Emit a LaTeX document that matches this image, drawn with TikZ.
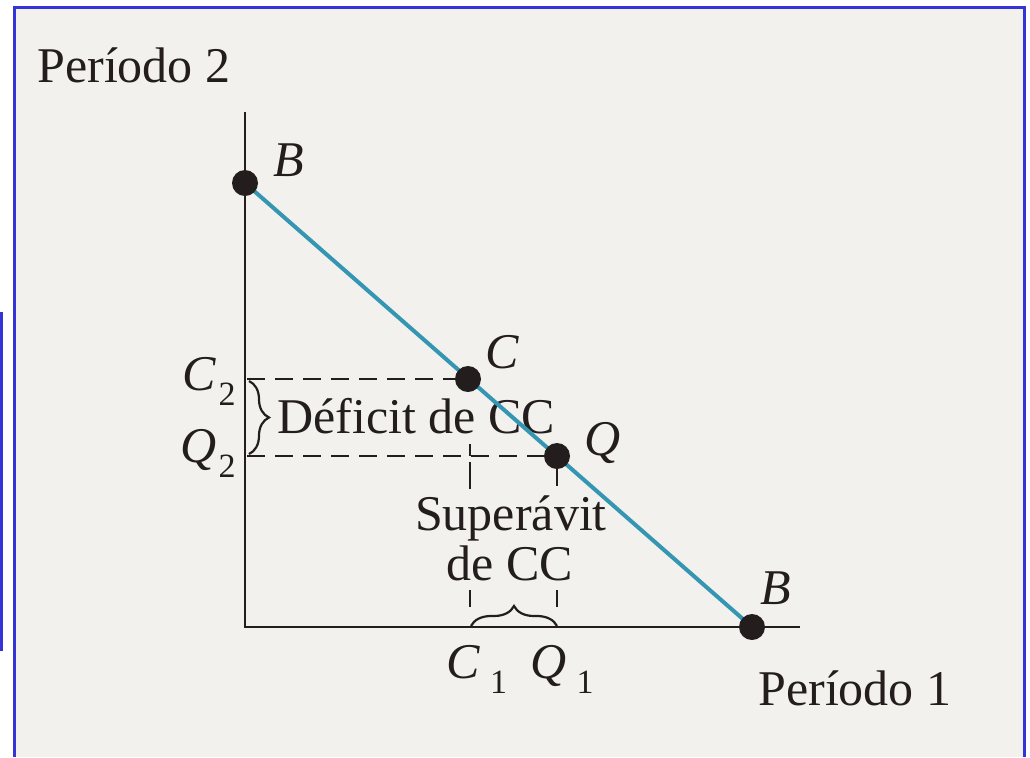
\documentclass[tikz,border=0pt]{standalone}
\usepackage{fontspec}
\setmainfont{Liberation Serif}
\usetikzlibrary{decorations.pathreplacing}
\definecolor{paper}{RGB}{243,241,238}
\definecolor{ink}{RGB}{36,29,29}
\definecolor{budget}{RGB}{52,150,178}
\definecolor{framecol}{RGB}{52,52,215}
\begin{document}
\begin{tikzpicture}[x=0.5pt,y=-0.5pt,
  lbl/.style={text=ink,font=\fontsize{25}{29}\selectfont,inner sep=0pt},
  ilbl/.style={lbl,font=\fontsize{25}{29}\selectfont\itshape},
  dot/.style={circle,fill=ink,inner sep=0pt,minimum size=13pt},
  axisline/.style={draw=ink,line width=1.4pt},
  guide/.style={draw=ink,line width=1.1pt,dash pattern=on 9pt off 5pt},
  tick/.style={draw=ink,line width=1.1pt},
  bracestyle/.style={draw=ink,line width=1.1pt,decorate,decoration={brace,amplitude=10pt}},
  budgetline/.style={draw=budget,line width=2pt},
  framestyle/.style={draw=framecol,line width=1.5pt}]
\useasboundingbox (0,0) rectangle (1030,757);
\fill[white] (0,0) rectangle (1030,757);
\fill[paper] (14,7) rectangle (1024,757);
\draw[framestyle] (14,757) -- (14,7) -- (1024,7) -- (1024,757);
\draw[framestyle] (1,312) -- (1,651);
% coordinates
\coordinate (O) at (245,627);
\coordinate (ytop) at (245,112);
\coordinate (xend) at (800,627);
\coordinate (b2) at (245,183);
\coordinate (c) at (468,379);
\coordinate (q) at (557,456);
\coordinate (b1) at (752,627);
\coordinate (c2) at (247,379);
\coordinate (q2) at (247,456);
% axes
\draw[axisline] (ytop) -- (O) -- (xend);
% guides
\draw[guide] (c2) -- (c);
\draw[guide] (q2) -- (q);
\draw[tick] (470,444) -- (470,456);
\draw[tick] (470,462) -- (470,489);
\draw[tick] (557,462) -- (557,486);
\draw[tick] (470,590) -- (470,607);
\draw[tick] (557,590) -- (557,607);
% braces
\draw[bracestyle] (249,381) -- (249,454);
\draw[bracestyle] (471,626) -- (557,626);
% text
\node[lbl,anchor=base west] (p2) at (37,82) {Período 2};
\node[lbl,anchor=base west] (p1) at (758,705) {Período 1};
\node[lbl,anchor=base west] (def) at (277,433) {Déficit de CC};
\node[lbl,anchor=base] (sup) at (511,530) {Superávit};
\node[lbl,anchor=base] (decc) at (510,580) {de CC};
\node[lbl,anchor=base east] (lc2) at (236,390) {\textit{C}\kern1pt\raisebox{-0.3em}{\fontsize{17}{17}\selectfont 2}};
\node[lbl,anchor=base east] (lq2) at (236,462) {\textit{Q}\kern1pt\raisebox{-0.3em}{\fontsize{17}{17}\selectfont 2}};
\node[lbl,anchor=base west] (lc1) at (446,678) {\textit{C}\kern5pt\raisebox{-0.3em}{\fontsize{17}{17}\selectfont 1}};
\node[lbl,anchor=base west] (lq1) at (530,678) {\textit{Q}\kern5pt\raisebox{-0.3em}{\fontsize{17}{17}\selectfont 1}};
\node[ilbl] (lb2) at (289,160) {B};
\node[ilbl] (lc) at (502,352) {C};
\node[ilbl] (lq) at (603,443) {Q};
\node[ilbl] (lb1) at (776,588) {B};
% budget line
\draw[budgetline] (b2) -- (b1);
% points
\node[dot] (B2) at (b2) {};
\node[dot] (C) at (c) {};
\node[dot] (Q) at (q) {};
\node[dot] (B1) at (b1) {};
\end{tikzpicture}
\end{document}
